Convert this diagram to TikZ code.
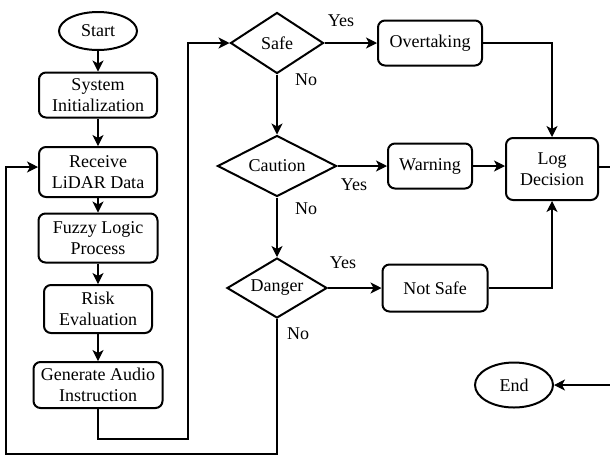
\documentclass[tikz,border=0pt]{standalone}
\usepackage{fontspec}
\setmainfont{Liberation Serif}
\newfontfamily\tnr{Liberation Serif}
\usetikzlibrary{shapes.geometric,arrows.meta}
\begin{document}
\begin{tikzpicture}[x=1pt,y=-1pt,
  txt/.style={font=\tnr\fontsize{18}{21}\selectfont},
  box/.style={txt, draw, line width=2pt, rounded corners=7pt, align=center, inner sep=0pt},
  dia/.style={txt, draw, line width=2pt, diamond, aspect=1.6, inner sep=0pt},
  ell/.style={txt, draw, line width=2pt, ellipse, inner sep=0pt},
  conn/.style={line width=1.1pt, -{Stealth[length=11pt,width=11pt,inset=3pt]}},
  lbl/.style={txt}]
\clip (0,0) rectangle (610,459);
\fill[white] (0,0) rectangle (610,459);
% left column
\node[ell, minimum width=78, minimum height=38] (start) at (98,31) {Start};
\node[box, minimum width=118, minimum height=45] (sys) at (98,95) {System\\Initialization};
\node[box, minimum width=118, minimum height=50] (recv) at (98,172) {Receive\\LiDAR Data};
\node[box, minimum width=119, minimum height=49] (fuzzy) at (98,238) {Fuzzy Logic\\Process};
\node[box, minimum width=108, minimum height=48] (risk) at (98,309) {Risk\\Evaluation};
\node[box, minimum width=129, minimum height=46] (gen) at (98,385) {Generate Audio\\Instruction};
% decisions
\node[dia, minimum width=93, minimum height=61] (safe) at (277,43) {Safe};
\node[dia, minimum width=119, minimum height=61] (caution) at (277,166) {Caution};
\node[dia, minimum width=100, minimum height=60] (danger) at (277,288) {Danger};
% outcomes
\node[box, minimum width=104, minimum height=45] (over) at (430,43) {Overtaking};
\node[box, minimum width=84, minimum height=45] (warn) at (430,166) {Warning};
\node[box, minimum width=105, minimum height=47] (notsafe) at (435,288) {Not Safe};
\node[box, minimum width=92, minimum height=62] (log) at (552,169) {Log\\Decision};
\node[ell, minimum width=78, minimum height=45] (endn) at (514,385) {End};
% labels
\node[lbl] (y1) at (341,21) {Yes};
\node[lbl] (n1) at (306,80) {No};
\node[lbl] (y2) at (354,185) {Yes};
\node[lbl] (n2) at (306,209) {No};
\node[lbl] (y3) at (343,263) {Yes};
\node[lbl] (n3) at (298,334) {No};
% helper coordinates
\coordinate (c1) at (188,439);
\coordinate (c2) at (6,454);
\coordinate (c3) at (630,300);
% connectors
\draw[conn] (start) -- (sys);
\draw[conn] (sys) -- (recv);
\draw[conn] (recv) -- (fuzzy);
\draw[conn] (fuzzy) -- (risk);
\draw[conn] (risk) -- (gen);
\draw[conn] (gen.south) |- (c1) |- (safe.west);
\draw[conn] (danger.south) |- (c2) |- ([yshift=5pt]recv.west);
\draw[conn] (safe) -- (caution);
\draw[conn] (caution) -- (danger);
\draw[conn] (safe.east) -- (over.west);
\draw[conn] (caution.east) -- (warn.west);
\draw[conn] (danger.east) -- (notsafe.west);
\draw[conn] (over.east) -| (log.north);
\draw[conn] (warn.east) -- (warn.east -| log.west);
\draw[conn] (notsafe.east) -| (log.south);
\draw[conn] ([yshift=2pt]log.east) -| (c3) |- (endn.east);
\end{tikzpicture}
\end{document}
